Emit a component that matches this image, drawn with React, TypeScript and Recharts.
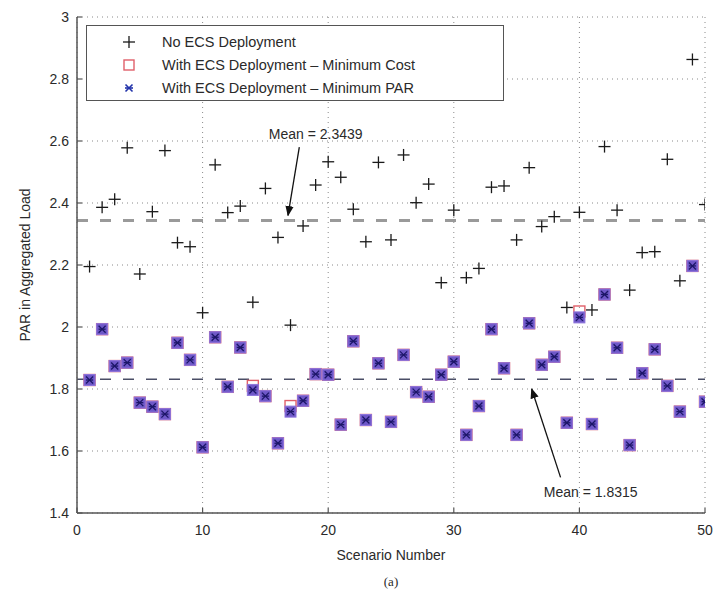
import React from "react";
import {
  CartesianGrid,
  Label,
  Legend,
  ReferenceDot,
  ReferenceLine,
  Scatter,
  ScatterChart,
  XAxis,
  YAxis
} from "recharts";

const scenarios = [
  1, 2, 3, 4, 5, 6, 7, 8, 9, 10, 11, 12, 13, 14, 15, 16, 17, 18, 19, 20, 21, 22, 23, 24, 25,
  26, 27, 28, 29, 30, 31, 32, 33, 34, 35, 36, 37, 38, 39, 40, 41, 42, 43, 44, 45, 46, 47, 48, 49, 50
];

const noEcs = [
  2.195, 2.386, 2.412, 2.578, 2.171, 2.372, 2.569, 2.272, 2.259, 2.046,
  2.523, 2.369, 2.39, 2.08, 2.447, 2.289, 2.006, 2.326, 2.458, 2.533,
  2.483, 2.38, 2.275, 2.531, 2.281, 2.555, 2.401, 2.461, 2.143, 2.377,
  2.159, 2.189, 2.451, 2.455, 2.281, 2.514, 2.324, 2.356, 2.063, 2.37,
  2.055, 2.582, 2.377, 2.119, 2.24, 2.243, 2.541, 2.149, 2.863, 2.395
];

const minCost = [
  1.829, 1.993, 1.874, 1.885, 1.756, 1.743, 1.719, 1.949, 1.894, 1.612,
  1.967, 1.807, 1.934, 1.81, 1.777, 1.625, 1.745, 1.762, 1.848, 1.846,
  1.685, 1.954, 1.7, 1.883, 1.694, 1.91, 1.79, 1.775, 1.846, 1.888,
  1.652, 1.745, 1.993, 1.867, 1.652, 2.012, 1.878, 1.904, 1.691, 2.05,
  1.687, 2.105, 1.933, 1.619, 1.851, 1.928, 1.81, 1.727, 2.197, 1.759
];

const minPar = [
  1.829, 1.993, 1.874, 1.885, 1.756, 1.743, 1.719, 1.949, 1.894, 1.612,
  1.967, 1.807, 1.934, 1.797, 1.777, 1.625, 1.727, 1.762, 1.848, 1.846,
  1.685, 1.954, 1.7, 1.883, 1.694, 1.91, 1.79, 1.775, 1.846, 1.888,
  1.652, 1.745, 1.993, 1.867, 1.652, 2.012, 1.878, 1.904, 1.691, 2.031,
  1.687, 2.105, 1.933, 1.619, 1.851, 1.928, 1.81, 1.727, 2.197, 1.759
];

const meanNoEcs = 2.3439;
const meanEcs = 1.8315;

const xTicks = [0, 10, 20, 30, 40, 50];
const yTicks = [1.4, 1.6, 1.8, 2, 2.2, 2.4, 2.6, 2.8, 3];

const seriesNames = [
  "No ECS Deployment",
  "With ECS Deployment \u2013 Minimum Cost",
  "With ECS Deployment \u2013 Minimum PAR"
];

const toPoints = (values: number[]) => scenarios.map((s, i) => ({ x: s, y: values[i] }));

const FONT = "'Liberation Sans', Arial, Helvetica, sans-serif";
const TEXT = "#2a2a2a";
const AXIS = { stroke: "#555", strokeWidth: 1.5 };
const TICKLINE = { stroke: "#555", strokeWidth: 1.2 };

function PlusMark(p: any) {
  const { cx, cy } = p;
  if (cx == null || cy == null) return null;
  return (
    <g>
      <line x1={cx - 6} y1={cy} x2={cx + 6} y2={cy} stroke="#1a1a1a" strokeWidth={1.3} />
      <line x1={cx} y1={cy - 6} x2={cx} y2={cy + 6} stroke="#1a1a1a" strokeWidth={1.3} />
    </g>
  );
}

function SquareMark(p: any) {
  const { cx, cy } = p;
  if (cx == null || cy == null) return null;
  return <rect x={cx - 5.5} y={cy - 5.5} width={11} height={11} fill="none" stroke="#e0606a" strokeWidth={1.4} />;
}

function StarMark(p: any) {
  const { cx, cy } = p;
  if (cx == null || cy == null) return null;
  const s = 3.5;
  return (
    <g>
      <rect x={cx - 5.5} y={cy - 5.5} width={11} height={11} fill="#6f58c8" stroke="#8d74dc" strokeWidth={1} />
      <g stroke="#1c1668" strokeWidth={1.3}>
        <line x1={cx - s} y1={cy - s} x2={cx + s} y2={cy + s} />
        <line x1={cx - s} y1={cy + s} x2={cx + s} y2={cy - s} />
        <line x1={cx - s} y1={cy} x2={cx + s} y2={cy} />
      </g>
    </g>
  );
}

function LegendBox() {
  const markers = [
    <g key="a">
      <line x1={4} y1={10} x2={16} y2={10} stroke="#1a1a1a" strokeWidth={1.3} />
      <line x1={10} y1={4} x2={10} y2={16} stroke="#1a1a1a" strokeWidth={1.3} />
    </g>,
    <rect key="b" x={5} y={5} width={10} height={10} fill="none" stroke="#e0606a" strokeWidth={1.4} />,
    <g key="c" stroke="#2233aa" strokeWidth={1.6}>
      <line x1={6.5} y1={6.5} x2={13.5} y2={13.5} />
      <line x1={6.5} y1={13.5} x2={13.5} y2={6.5} />
      <line x1={6} y1={10} x2={14} y2={10} />
    </g>
  ];
  return (
    <div
      style={{
        width: 418,
        height: 76,
        border: "1.5px solid #555",
        background: "#fff",
        boxSizing: "border-box",
        paddingTop: 4,
        fontFamily: FONT,
        fontSize: 14.5,
        color: TEXT
      }}
    >
      {seriesNames.map((name, i) => (
        <div key={name} style={{ display: "flex", alignItems: "center", height: 23 }}>
          <svg width={20} height={20} style={{ marginLeft: 32, marginRight: 23 }}>
            {markers[i]}
          </svg>
          <span>{name}</span>
        </div>
      ))}
    </div>
  );
}

export default function App() {
  return (
    <div style={{ position: "absolute", left: 0, top: 0, width: 719, height: 595, background: "#fff" }}>
      <ScatterChart
        width={719}
        height={595}
        margin={{ top: 17, right: 14, bottom: 0, left: 0 }}
        style={{ fontFamily: FONT }}
      >
        <defs>
          <marker id="arrowHead" viewBox="0 0 10 10" refX="9" refY="5" markerWidth="8" markerHeight="8" orient="auto">
            <path d="M0,1 L10,5 L0,9 z" fill="#111" />
          </marker>
        </defs>
        <CartesianGrid stroke="#8a8a8a" strokeDasharray="1 4" />
        <XAxis
          type="number"
          dataKey="x"
          domain={[0, 50]}
          ticks={xTicks}
          allowDataOverflow
          height={82}
          tickSize={-5}
          tickMargin={17}
          tickLine={TICKLINE}
          tick={{ fontSize: 14, fill: TEXT }}
          axisLine={AXIS}
        >
          <Label
            content={(props: any) => {
              const vb = props.viewBox;
              const cx = vb.x + vb.width / 2;
              return (
                <g fontFamily={FONT} fill={TEXT} textAnchor="middle">
                  <text x={cx} y={vb.y + 47} fontSize={14}>Scenario Number</text>
                  <text x={cx} y={vb.y + 73} fontSize={13} fontFamily="'Liberation Serif', serif">(a)</text>
                </g>
              );
            }}
          />
        </XAxis>
        <XAxis
          xAxisId="top"
          orientation="top"
          type="number"
          domain={[0, 50]}
          ticks={xTicks}
          height={0}
          tickSize={-5}
          tickLine={TICKLINE}
          tick={{ fill: "none", fontSize: 1 }}
          axisLine={AXIS}
        />
        <YAxis
          type="number"
          dataKey="y"
          domain={[1.4, 3]}
          ticks={yTicks}
          allowDataOverflow
          width={77}
          tickSize={-5}
          tickMargin={13}
          tickLine={TICKLINE}
          tick={{ fontSize: 14, fill: TEXT }}
          axisLine={AXIS}
        >
          <Label
            content={(props: any) => {
              const vb = props.viewBox;
              const cy = vb.y + vb.height / 2;
              const x = vb.x + 30;
              return (
                <text
                  x={x}
                  y={cy}
                  transform={`rotate(-90, ${x}, ${cy})`}
                  textAnchor="middle"
                  fontSize={14}
                  fill={TEXT}
                  fontFamily={FONT}
                >
                  PAR in Aggregated Load
                </text>
              );
            }}
          />
        </YAxis>
        <YAxis
          yAxisId="right"
          orientation="right"
          type="number"
          domain={[1.4, 3]}
          ticks={yTicks}
          width={0}
          tickSize={-5}
          tickLine={TICKLINE}
          tick={{ fill: "none", fontSize: 1 }}
          axisLine={AXIS}
        />
        <ReferenceLine y={meanNoEcs} stroke="#9a9a9a" strokeWidth={3} strokeDasharray="11 12" />
        <ReferenceLine y={meanEcs} stroke="#4a4e66" strokeWidth={1.6} strokeDasharray="11 12" />
        <Scatter name={seriesNames[0]} data={toPoints(noEcs)} shape={PlusMark} isAnimationActive={false} />
        <Scatter name={seriesNames[1]} data={toPoints(minCost)} shape={SquareMark} isAnimationActive={false} />
        <Scatter name={seriesNames[2]} data={toPoints(minPar)} shape={StarMark} isAnimationActive={false} />
        <ReferenceLine
          segment={[{ x: 17.7, y: 2.58 }, { x: 16.8, y: 2.36 }]}
          stroke="#111"
          strokeWidth={1.3}
          markerEnd="url(#arrowHead)"
        />
        <ReferenceLine
          segment={[{ x: 38.5, y: 1.515 }, { x: 36.2, y: 1.8 }]}
          stroke="#111"
          strokeWidth={1.3}
          markerEnd="url(#arrowHead)"
        />
        <ReferenceDot
          x={19}
          y={2.623}
          r={0}
          fill="none"
          stroke="none"
          label={{ value: `Mean = ${meanNoEcs}`, position: "center", fill: TEXT, fontSize: 14 }}
        />
        <ReferenceDot
          x={40.9}
          y={1.468}
          r={0}
          fill="none"
          stroke="none"
          label={{ value: `Mean = ${meanEcs}`, position: "center", fill: TEXT, fontSize: 14 }}
        />
        <Legend
          layout="horizontal"
          verticalAlign="middle"
          align="center"
          wrapperStyle={{ top: 25, left: 86, width: 418, height: 76 }}
          content={() => <LegendBox />}
        />
      </ScatterChart>
    </div>
  );
}
